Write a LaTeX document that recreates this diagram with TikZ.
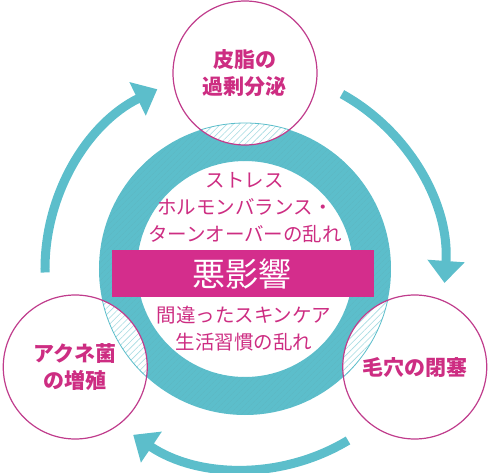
\documentclass[tikz,border=0pt]{standalone}
\usepackage{fontspec}
\setmainfont{Noto Sans CJK JP}
\usetikzlibrary{arrows.meta,patterns.meta}

\definecolor{ringteal}{RGB}{92,190,203}
\definecolor{barpink}{RGB}{212,45,140}
\definecolor{textpink}{RGB}{205,45,130}
\definecolor{edgepink}{RGB}{192,60,140}

\begin{document}
\begin{tikzpicture}[x=1pt,y=1pt,
    bubble/.style={circle, draw=edgepink, line width=1.2pt, minimum size=144pt,
        inner sep=0pt, align=center, text=textpink,
        font=\fontsize{21}{27}\selectfont\bfseries},
    cyclearrow/.style={line width=9pt, ringteal, -{Triangle[width=36pt,length=22pt]}},
    midtext/.style={align=center, text=textpink, font=\fontsize{19.5}{27}\selectfont},
    hatch/.style={pattern={Lines[angle=45,distance=4.5pt,line width=0.6pt]}, pattern color=ringteal!55}]
    \useasboundingbox (-245,-203) rectangle (243,269);

    % centro
    \coordinate (O) at (0,0);

    % anello
    \fill[ringteal, even odd rule] (O) circle (146) circle (108);
    \path[pattern={Lines[angle=45,distance=4pt,line width=0.5pt]}, pattern color=ringteal!85!black!90,
        even odd rule, opacity=0.35] (O) circle (146) circle (108);

    % frecce del ciclo
    \draw[cyclearrow] (61:200) arc[start angle=61, end angle=-4, radius=200];
    \draw[cyclearrow] (181:200) arc[start angle=181, end angle=116, radius=200];
    \draw[cyclearrow] (301:200) arc[start angle=301, end angle=236, radius=200];

    % cerchi piccoli
    \coordinate (top) at (90:196);
    \coordinate (right) at (330:196);
    \coordinate (left) at (210:196);
    \foreach \c in {top,right,left} {
        \fill[white] (\c) circle (72);
        \begin{scope}
            \clip (\c) circle (72);
            \path[hatch] (O) circle (146);
            \draw[ringteal, line width=0.8pt] (O) circle (146);
        \end{scope}
    }
    \node[bubble] (sebum) at (top) {皮脂の\\過剰分泌};
    \node[bubble] (pore) at (right) {毛穴の閉塞};
    \node[bubble] (acne) at (left) {アクネ菌\\の増殖};

    % fascia centrale
    \fill[barpink] (-133,19) rectangle (129,-28);
    \node[text=white, font=\fontsize{33}{33}\selectfont] (effect) at (-2.5,-4.5) {悪影響};

    % testi
    \node[midtext] (causesup) at (0,61) {ストレス\\ホルモンバランス・\\ターンオーバーの乱れ};
    \node[midtext] (causesdown) at (-1,-59.5) {間違ったスキンケア\\生活習慣の乱れ};
\end{tikzpicture}
\end{document}
